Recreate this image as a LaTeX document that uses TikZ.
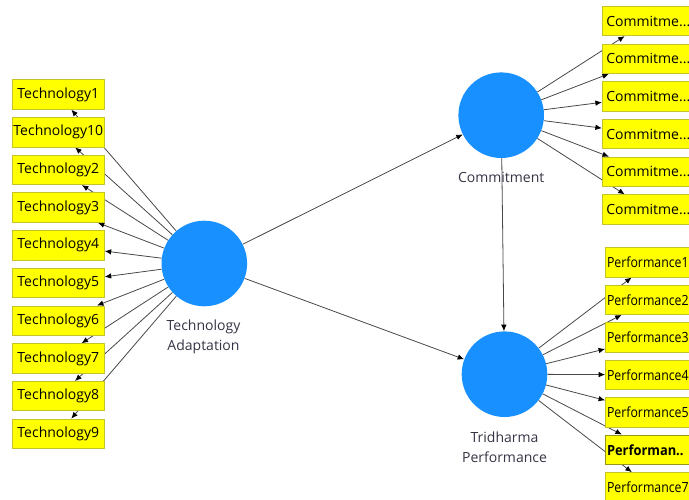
\documentclass[tikz,border=0pt]{standalone}
\usepackage{fontspec}
\setmainfont{Open Sans}
\usetikzlibrary{arrows.meta,backgrounds}

\definecolor{lvblue}{RGB}{24,144,255}
\definecolor{mvfill}{RGB}{255,255,0}
\definecolor{mvline}{RGB}{196,196,40}
\definecolor{lbltext}{RGB}{52,52,68}
\definecolor{pathgray}{RGB}{72,72,72}

% left-set, slightly condensed label for the boxes at the right margin
\newcommand\narrowlabel[2]{\makebox[92pt][l]{\hspace{1.5pt}\scalebox{#1}[1]{#2}}}

\tikzset{
  latent/.style={circle, fill=lvblue, draw=none, minimum size=85.6pt, inner sep=0pt},
  indicator/.style={rectangle, fill=mvfill, draw=mvline, line width=0.8pt,
    minimum width=92pt, minimum height=29.5pt, inner sep=0pt,
    font=\fontsize{14}{16}\selectfont},
  hilite/.style={indicator, draw={rgb,255:red,150;green,150;blue,20}, line width=1pt,
    font=\fontsize{14}{16}\selectfont\bfseries},
  lvlabel/.style={align=center, text=lbltext, inner sep=0pt,
    font=\fontsize{14}{20}\selectfont},
  path/.style={draw=pathgray, line width=0.8pt,
    -{Latex[length=6.5pt,width=5.5pt,fill=black,color=black]}},
}

\begin{document}
\begin{tikzpicture}[x=1pt,y=-1pt]
  \useasboundingbox (0,0) rectangle (689,500);
  \clip (0,0) rectangle (689,500);

  % latent variables
  \node[latent] (TA) at (204.3,263.5) {};
  \node[latent] (CO) at (501.2,115.2) {};
  \node[latent] (TP) at (504.5,374.2) {};

  \node[lvlabel] (TAlbl) at (203.5,336.5) {Technology\\Adaptation};
  \node[lvlabel] (COlbl) at (501.2,177.7) {Commitment};
  \node[lvlabel] (TPlbl) at (504.5,447) {Tridharma\\Performance};

  % technology indicators
  \node[indicator] (T1)  at (58.3,94.5)  {Technology1};
  \node[indicator] (T10) at (58.3,132.2) {Technology10};
  \node[indicator] (T2)  at (58.3,169.9) {Technology2};
  \node[indicator] (T3)  at (58.3,207.6) {Technology3};
  \node[indicator] (T4)  at (58.3,245.3) {Technology4};
  \node[indicator] (T5)  at (58.3,283.0) {Technology5};
  \node[indicator] (T6)  at (58.3,320.7) {Technology6};
  \node[indicator] (T7)  at (58.3,358.4) {Technology7};
  \node[indicator] (T8)  at (58.3,396.1) {Technology8};
  \node[indicator] (T9)  at (58.3,433.8) {Technology9};

  % commitment indicators
  \node[indicator] (C1) at (648.3,21.0)  {Commitme...};
  \node[indicator] (C2) at (648.3,58.7)  {Commitme...};
  \node[indicator] (C3) at (648.3,96.4)  {Commitme...};
  \node[indicator] (C4) at (648.3,134.1) {Commitme...};
  \node[indicator] (C5) at (648.3,171.8) {Commitme...};
  \node[indicator] (C6) at (648.3,209.5) {Commitme...};

  % performance indicators
  \node[indicator] (P1) at (651.5,262.3) {\narrowlabel{0.88}{Performance1}};
  \node[indicator] (P2) at (651.5,299.8) {\narrowlabel{0.88}{Performance2}};
  \node[indicator] (P3) at (651.5,337.3) {\narrowlabel{0.88}{Performance3}};
  \node[indicator] (P4) at (651.5,374.8) {\narrowlabel{0.88}{Performance4}};
  \node[indicator] (P5) at (651.5,412.3) {\narrowlabel{0.88}{Performance5}};
  \node[hilite]    (P6) at (651.5,449.8) {\narrowlabel{0.92}{Performan..}};
  \node[indicator] (P7) at (651.5,487.3) {\narrowlabel{0.88}{Performance7}};

  % paths sit beneath the boxes
  \begin{pgfonlayer}{background}
    \foreach \t in {T1,T10,T2,T3,T4,T5,T6,T7,T8,T9}
      \draw[path] (TA) -- (\t);
    \foreach \c in {C1,C2,C3,C4,C5,C6}
      \draw[path] (CO) -- (\c);
    \foreach \p in {P1,P2,P3,P4,P5,P6,P7}
      \draw[path] (TP) -- (\p);
    \draw[path] (TA) -- (CO);
    \draw[path] (TA) -- (TP);
    \draw[path] (CO) -- (TP);
  \end{pgfonlayer}
\end{tikzpicture}
\end{document}
